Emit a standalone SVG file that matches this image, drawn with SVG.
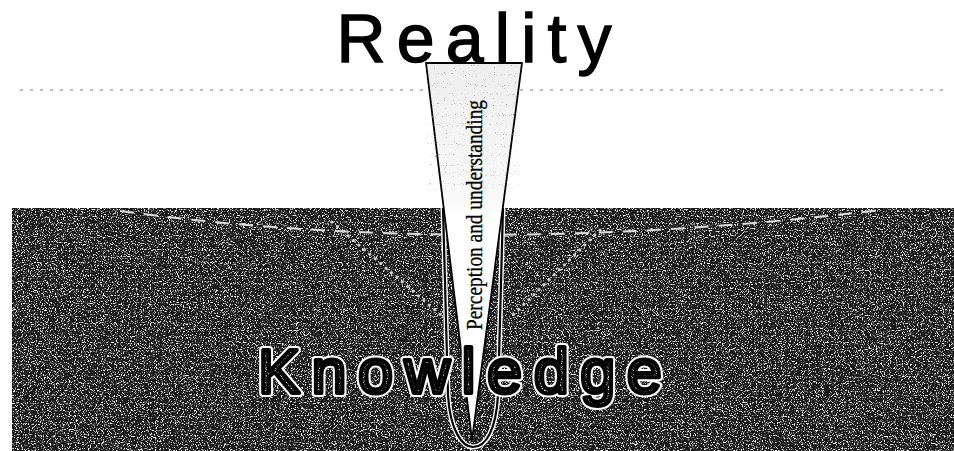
<svg xmlns="http://www.w3.org/2000/svg" width="954" height="451" viewBox="0 0 954 451">
  <defs>
    <filter id="speck" x="0" y="0" width="1" height="1" color-interpolation-filters="sRGB">
      <feTurbulence type="fractalNoise" baseFrequency="0.85" numOctaves="2" seed="7" result="n"/>
      <feColorMatrix in="n" type="matrix" values="0 0 0 0 1  0 0 0 0 1  0 0 0 0 1  6 0 0 0 -3.2"/>
    </filter>
    <filter id="speckLight" x="0" y="0" width="1" height="1" color-interpolation-filters="sRGB">
      <feTurbulence type="fractalNoise" baseFrequency="0.9" numOctaves="1" seed="11" result="n"/>
      <feColorMatrix in="n" type="matrix" values="0 0 0 0 0.6  0 0 0 0 0.6  0 0 0 0 0.6  8 0 0 0 -5.4"/>
    </filter>
    <pattern id="tex" patternUnits="userSpaceOnUse" x="0" y="0" width="954" height="451">
      <rect width="954" height="451" fill="#1a1a1a"/>
      <rect width="954" height="451" fill="#fff" filter="url(#speck)"/>
    </pattern>
    <linearGradient id="funnel" gradientUnits="userSpaceOnUse" x1="0" y1="63" x2="0" y2="440">
      <stop offset="0" stop-color="#eeeeee"/>
      <stop offset="0.38" stop-color="#f9f9f9"/>
      <stop offset="0.4" stop-color="#ffffff"/>
      <stop offset="1" stop-color="#ffffff"/>
    </linearGradient>
    <style>
      .big { font-family: "Liberation Sans", Arial, sans-serif; }
      .serif { font-family: "Liberation Serif", "Times New Roman", serif; }
      .vdots { stroke: #d0d0d0; stroke-width: 3; stroke-linecap: round; stroke-dasharray: 0.1 7; }
    </style>
  </defs>

  <rect width="954" height="451" fill="#ffffff"/>

  <!-- horizontal dotted line -->
  <line x1="20" y1="90" x2="950" y2="90" stroke="#7a7a7a" stroke-width="1" stroke-dasharray="3 7"/>

  <!-- dark ground -->
  <g id="knowledge-ground">
    <rect x="12" y="208" width="942" height="243" fill="url(#tex)"/>
  </g>

  <g id="connectors">
    <path d="M120,211 Q474,259 880,210" fill="none" stroke="#dcdcdc" stroke-width="2" stroke-dasharray="14 10"/>
    <line class="vdots" x1="332" y1="222" x2="442" y2="316"/>
    <line class="vdots" x1="600" y1="230" x2="512" y2="316"/>
  </g>

  <!-- tube around the funnel -->
  <g id="tube">
    <path d="M443,208 L448,395 C450,430 462,447 473,447 C486,447 496,430 498,395 L503,208" fill="none" stroke="#ffffff" stroke-width="5"/>
    <path d="M443,208 L448,395 C450,430 462,447 473,447 C486,447 496,430 498,395 L503,208" fill="none" stroke="#000000" stroke-width="2.2"/>
  </g>

  <!-- funnel: perception and understanding -->
  <g id="perception">
    <polygon points="426,63 522,63 472,440" fill="url(#funnel)" stroke="#000" stroke-width="1.8" stroke-linejoin="round"/>
    <polygon points="428,65 520,65 505,190 440,190" fill="#fff" filter="url(#speckLight)"/>
    <text class="serif" transform="translate(482,330) rotate(-90)" x="0" y="0" font-size="24" textLength="230" lengthAdjust="spacingAndGlyphs" fill="#000" stroke="#000" stroke-width="0.3">Perception and understanding</text>
  </g>

  <!-- Knowledge label -->
  <g id="knowledge">
    <text class="big" x="258" y="393" font-size="63" letter-spacing="11.5" fill="none" stroke="#ffffff" stroke-width="8" stroke-linejoin="round">Knowledge</text>
    <text class="big" x="258" y="393" font-size="63" letter-spacing="11.5" fill="url(#tex)" stroke="#000000" stroke-width="4" stroke-linejoin="round">Knowledge</text>
  </g>

  <!-- Reality label -->
  <g id="reality">
    <text class="big" x="336.5" y="62" font-size="68" letter-spacing="11.2" fill="#000" stroke="#000" stroke-width="1.4">Reality</text>
  </g>
</svg>
